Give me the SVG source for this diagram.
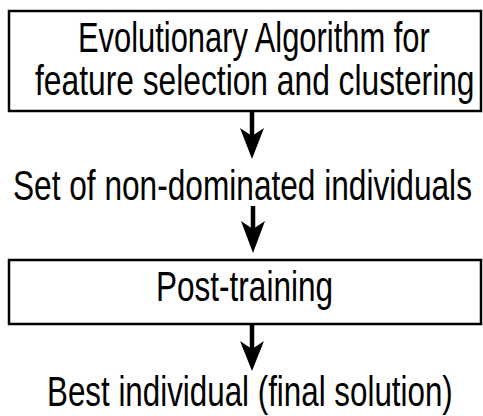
<svg xmlns="http://www.w3.org/2000/svg" width="483" height="416" viewBox="0 0 483 416">
<style>
.box{fill:#fff;stroke:#000;stroke-width:2.5}
.t{font-family:"Liberation Sans",Arial,sans-serif;font-size:42px;fill:#000}
.c{stroke:#000;stroke-width:4.5;fill:none}
.h{fill:#000;stroke:none}
</style>
<rect width="483" height="416" fill="#fff"/>
<g id="node-ea">
<rect class="box" x="9" y="11" width="472" height="100"/>
<text class="t" transform="scale(0.75,1)" x="104" y="52" textLength="469" lengthAdjust="spacingAndGlyphs">Evolutionary Algorithm for</text>
<text class="t" transform="scale(0.75,1)" x="46.7" y="95" textLength="586" lengthAdjust="spacingAndGlyphs">feature selection and clustering</text>
</g>
<g id="node-set">
<text class="t" transform="scale(0.75,1)" x="17.3" y="200" textLength="612" lengthAdjust="spacingAndGlyphs">Set of non-dominated individuals</text>
</g>
<g id="node-post">
<rect class="box" x="9" y="260" width="472" height="64"/>
<text class="t" transform="scale(0.75,1)" x="208" y="301" textLength="236" lengthAdjust="spacingAndGlyphs">Post-training</text>
</g>
<g id="node-best">
<text class="t" transform="scale(0.75,1)" x="62.7" y="406" textLength="541" lengthAdjust="spacingAndGlyphs">Best individual (final solution)</text>
</g>
<g id="connectors">
<line class="c" x1="252" y1="112" x2="252" y2="136"/>
<path class="h" d="M240,128 L252,159 L264,128 L252,136 Z"/>
<line class="c" x1="253" y1="206" x2="253" y2="229"/>
<path class="h" d="M241,221 L253,253 L265,221 L253,229 Z"/>
<line class="c" x1="252" y1="325" x2="252" y2="349"/>
<path class="h" d="M240,341 L252,371 L264,341 L252,349 Z"/>
</g>
</svg>
